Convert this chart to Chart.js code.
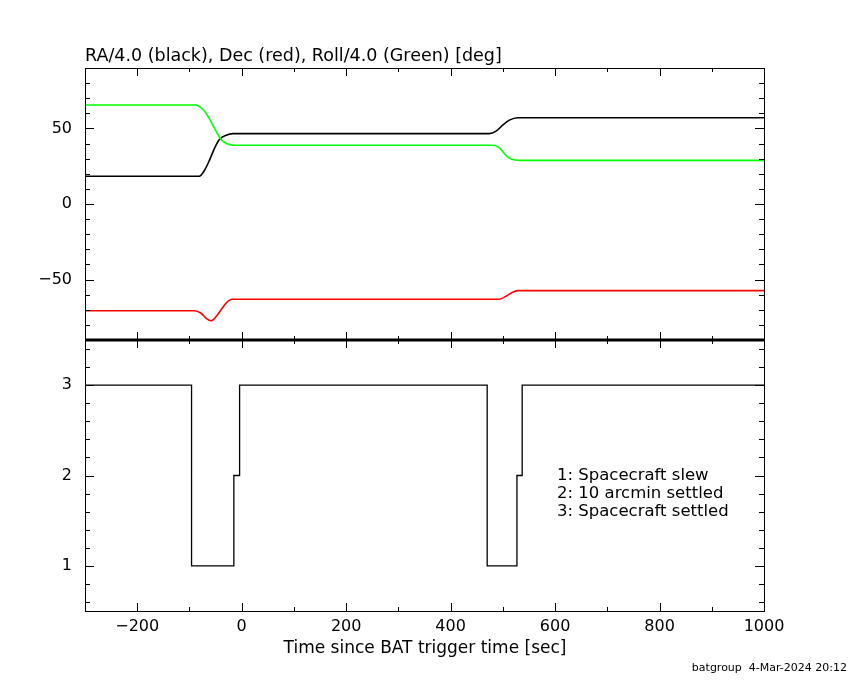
<!DOCTYPE html>
<html>
<head>
<meta charset="utf-8">
<script src="https://cdn.jsdelivr.net/npm/chart.js@4/dist/chart.umd.min.js"></script>
<style>
  body { margin: 0; background: #fff; }
  #wrap { position: relative; width: 850px; height: 680px; }
  #wrap canvas { position: absolute; left: 0; top: 0; }
</style>
</head>
<body>
<div id="wrap">
  <canvas id="topPanel" width="850" height="680"></canvas>
  <canvas id="bottomPanel" width="850" height="680"></canvas>
</div>
<script>
// RA/4.0 (black)
var raTime = [-300, -81, -71.4, -61.8, -52.3, -42.7, -29.9, -17.2, 474, 487, 499.7, 512.5, 528.5, 1000];
var raVal  = [18.4, 18.4, 22.2, 28.9, 36.7, 42.7, 45.5, 46.6, 46.6, 48.2, 52.2, 55.5, 57.1, 57.1];
// Dec (red)
var decTime = [-300, -90.6, -77.7, -68.2, -58.6, -49, -39.4, -29.9, -18.4, 493, 506, 516, 528, 1000];
var decVal  = [-70.6, -70.6, -72.3, -75.6, -77.3, -74.5, -70, -65.6, -63, -63, -61.1, -58.9, -57.3, -57.3];
// Roll/4.0 (green)
var rollTime = [-300, -87.3, -77.7, -68.2, -58.6, -49, -39.4, -26.8, -14, 480, 493, 506, 516, 532, 1000];
var rollVal  = [65.5, 65.5, 63.7, 60, 54.4, 48.2, 42.7, 39.7, 38.9, 38.9, 37.3, 32.2, 29.8, 28.9, 28.9];
// spacecraft mode (1 slew, 2 10 arcmin settled, 3 settled)
var modeTime = [-300, -96, -15, -4, 470, 527, 537, 1000];
var modeVal  = [3, 1, 2, 3, 1, 2, 3, 3];

var xTicks = [-200, 0, 200, 400, 600, 800, 1000];
var topYTicks = [-50, 0, 50];
var bottomYTicks = [1, 2, 3];
var titleText = "RA/4.0 (black), Dec (red), Roll/4.0 (Green) [deg]";
var xTitle = "Time since BAT trigger time [sec]";
var legendLines = ["1: Spacecraft slew", "2: 10 arcmin settled", "3: Spacecraft settled"];
var footer = "batgroup  4-Mar-2024 20:12";

var FONT = "'DejaVu Sans', sans-serif";

function pts(t, v) {
  return t.map(function(x, i) { return {x: x, y: v[i]}; });
}
function minusLabel(value) {
  return String(value).replace("-", "\u2212");
}
function setTicks(list) {
  return function(scale) { scale.ticks = list.map(function(v) { return {value: v}; }); };
}

// frame + inward tick marks on all four sides, plus free text
var frameTicks = {
  id: "frameTicks",
  afterDraw: function(chart, args, opts) {
    var ctx = chart.ctx, a = chart.chartArea;
    var xs = chart.scales.x, ys = chart.scales.y;
    ctx.save();
    ctx.strokeStyle = "#000";
    ctx.lineWidth = 1;
    ctx.beginPath();
    var v, p, len;
    for (v = opts.xFrom; v <= opts.xTo; v += opts.xStep) {
      p = Math.round(xs.getPixelForValue(v)) + 0.5;
      len = (v % opts.xMajor === 0) ? 8 : 4;
      ctx.moveTo(p, a.top); ctx.lineTo(p, a.top + len);
      ctx.moveTo(p, a.bottom); ctx.lineTo(p, a.bottom - len);
    }
    for (var i = 0; i <= opts.yCount; i++) {
      v = opts.yFrom + i * opts.yStep;
      p = Math.round(ys.getPixelForValue(v)) + 0.5;
      len = (Math.abs(v / opts.yMajor - Math.round(v / opts.yMajor)) < 1e-6) ? 9 : 5;
      ctx.moveTo(a.left, p); ctx.lineTo(a.left + len, p);
      ctx.moveTo(a.right, p); ctx.lineTo(a.right - len, p);
    }
    ctx.stroke();
    ctx.strokeRect(Math.round(a.left) + 0.5, Math.round(a.top) + 0.5,
                   Math.round(a.right - a.left), Math.round(a.bottom - a.top));
    if (opts.thickBottom) {
      ctx.lineWidth = 3;
      ctx.beginPath();
      ctx.moveTo(a.left, a.bottom); ctx.lineTo(a.right, a.bottom);
      ctx.stroke();
    }
    ctx.fillStyle = "#000";
    (opts.texts || []).forEach(function(t) {
      ctx.font = t.size + "px " + FONT;
      ctx.textAlign = t.align;
      ctx.textBaseline = "middle";
      ctx.fillText(t.text, t.x, t.y);
    });
    ctx.restore();
  }
};

function lineSet(t, v, color) {
  return {
    data: pts(t, v),
    borderColor: color,
    borderWidth: 1.6,
    pointRadius: 0,
    cubicInterpolationMode: "monotone",
    fill: false
  };
}

new Chart(document.getElementById("topPanel"), {
  type: "line",
  data: {
    datasets: [
      lineSet(rollTime, rollVal, "#00ff00"),
      lineSet(decTime, decVal, "#ff0000"),
      lineSet(raTime, raVal, "#000000")
    ]
  },
  options: {
    responsive: false,
    devicePixelRatio: 1,
    animation: false,
    layout: { padding: { left: 0, right: 86, top: 68, bottom: 340 } },
    plugins: {
      legend: { display: false },
      tooltip: { enabled: false },
      frameTicks: {
        xFrom: -200, xTo: 900, xStep: 100, xMajor: 200,
        yFrom: -80, yStep: 10, yCount: 16, yMajor: 50,
        thickBottom: true,
        texts: [{ text: titleText, x: 85, y: 56, size: 17.5, align: "left" }]
      }
    },
    scales: {
      x: { type: "linear", min: -300, max: 1000, display: false },
      y: {
        min: -90, max: 90,
        afterBuildTicks: setTicks(topYTicks),
        afterFit: function(s) { s.width = 85; },
        grid: { display: false, drawTicks: false },
        border: { display: false },
        ticks: { padding: 13, color: "#000", font: { family: FONT, size: 16 }, callback: minusLabel }
      }
    }
  },
  plugins: [frameTicks]
});

new Chart(document.getElementById("bottomPanel"), {
  type: "line",
  data: {
    datasets: [{
      data: pts(modeTime, modeVal),
      borderColor: "#000",
      borderWidth: 1.3,
      pointRadius: 0,
      stepped: true,
      fill: false
    }]
  },
  options: {
    responsive: false,
    devicePixelRatio: 1,
    animation: false,
    layout: { padding: { left: 0, right: 86, top: 340, bottom: 39 } },
    plugins: {
      legend: { display: false },
      tooltip: { enabled: false },
      frameTicks: {
        xFrom: -200, xTo: 900, xStep: 100, xMajor: 200,
        yFrom: 0.6, yStep: 0.2, yCount: 14, yMajor: 1,
        texts: [
          { text: legendLines[0], x: 557, y: 476, size: 16.5, align: "left" },
          { text: legendLines[1], x: 557, y: 494, size: 16.5, align: "left" },
          { text: legendLines[2], x: 557, y: 512, size: 16.5, align: "left" },
          { text: xTitle, x: 425, y: 649, size: 17, align: "center" },
          { text: footer, x: 847, y: 668, size: 11, align: "right" }
        ]
      }
    },
    scales: {
      x: {
        type: "linear", min: -300, max: 1000,
        afterBuildTicks: setTicks(xTicks),
        afterFit: function(s) { s.height = 30; },
        grid: { display: false, drawTicks: false },
        border: { display: false },
        ticks: { padding: 6, maxRotation: 0, color: "#000", font: { family: FONT, size: 16 }, callback: minusLabel }
      },
      y: {
        min: 0.5, max: 3.5,
        afterBuildTicks: setTicks(bottomYTicks),
        afterFit: function(s) { s.width = 85; },
        grid: { display: false, drawTicks: false },
        border: { display: false },
        ticks: { padding: 13, color: "#000", font: { family: FONT, size: 16 } }
      }
    }
  },
  plugins: [frameTicks]
});
</script>
</body>
</html>
